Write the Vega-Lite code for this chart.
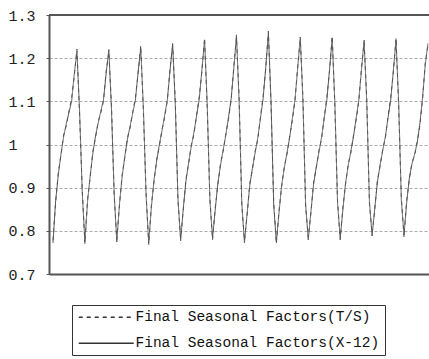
{
  "$schema": "https://vega.github.io/schema/vega-lite/v6.json",
  "width": 380,
  "height": 259,
  "autosize": {"type": "none"},
  "padding": {"left": 49, "top": 15, "right": 0, "bottom": 85},
  "background": "white",
  "config": {"view": {"stroke": null}},
  "data": {"values": [
    {"t":0,"x12":0.772,"ts":0.778},{"t":1,"x12":0.870,"ts":0.866},{"t":2,"x12":0.930,"ts":0.935},{"t":3,"x12":0.978,"ts":0.975},{"t":4,"x12":1.018,"ts":1.022},{"t":5,"x12":1.048,"ts":1.043},{"t":6,"x12":1.074,"ts":1.077},{"t":7,"x12":1.100,"ts":1.106},{"t":8,"x12":1.163,"ts":1.159},{"t":9,"x12":1.216,"ts":1.221},{"t":10,"x12":1.078,"ts":1.068},{"t":11,"x12":0.890,"ts":0.897},
    {"t":12,"x12":0.774,"ts":0.770},{"t":13,"x12":0.868,"ts":0.873},{"t":14,"x12":0.928,"ts":0.925},{"t":15,"x12":0.980,"ts":0.984},{"t":16,"x12":1.020,"ts":1.016},{"t":17,"x12":1.050,"ts":1.053},{"t":18,"x12":1.078,"ts":1.073},{"t":19,"x12":1.104,"ts":1.101},{"t":20,"x12":1.165,"ts":1.170},{"t":21,"x12":1.220,"ts":1.214},{"t":22,"x12":1.080,"ts":1.092},{"t":23,"x12":0.888,"ts":0.882},
    {"t":24,"x12":0.774,"ts":0.780},{"t":25,"x12":0.862,"ts":0.858},{"t":26,"x12":0.925,"ts":0.930},{"t":27,"x12":0.972,"ts":0.969},{"t":28,"x12":1.012,"ts":1.016},{"t":29,"x12":1.043,"ts":1.038},{"t":30,"x12":1.073,"ts":1.076},{"t":31,"x12":1.103,"ts":1.109},{"t":32,"x12":1.167,"ts":1.163},{"t":33,"x12":1.224,"ts":1.229},{"t":34,"x12":1.085,"ts":1.075},{"t":35,"x12":0.882,"ts":0.889},
    {"t":36,"x12":0.772,"ts":0.768},{"t":37,"x12":0.855,"ts":0.860},{"t":38,"x12":0.918,"ts":0.915},{"t":39,"x12":0.962,"ts":0.966},{"t":40,"x12":1.000,"ts":0.996},{"t":41,"x12":1.032,"ts":1.035},{"t":42,"x12":1.068,"ts":1.063},{"t":43,"x12":1.104,"ts":1.101},{"t":44,"x12":1.170,"ts":1.175},{"t":45,"x12":1.234,"ts":1.228},{"t":46,"x12":1.090,"ts":1.102},{"t":47,"x12":0.875,"ts":0.869},
    {"t":48,"x12":0.777,"ts":0.783},{"t":49,"x12":0.852,"ts":0.848},{"t":50,"x12":0.915,"ts":0.920},{"t":51,"x12":0.958,"ts":0.955},{"t":52,"x12":0.995,"ts":0.999},{"t":53,"x12":1.028,"ts":1.023},{"t":54,"x12":1.066,"ts":1.069},{"t":55,"x12":1.105,"ts":1.111},{"t":56,"x12":1.173,"ts":1.169},{"t":57,"x12":1.242,"ts":1.247},{"t":58,"x12":1.094,"ts":1.084},{"t":59,"x12":0.870,"ts":0.877},
    {"t":60,"x12":0.783,"ts":0.779},{"t":61,"x12":0.848,"ts":0.853},{"t":62,"x12":0.910,"ts":0.907},{"t":63,"x12":0.952,"ts":0.956},{"t":64,"x12":0.988,"ts":0.984},{"t":65,"x12":1.022,"ts":1.025},{"t":66,"x12":1.063,"ts":1.058},{"t":67,"x12":1.106,"ts":1.103},{"t":68,"x12":1.176,"ts":1.181},{"t":69,"x12":1.254,"ts":1.248},{"t":70,"x12":1.098,"ts":1.110},{"t":71,"x12":0.865,"ts":0.859},
    {"t":72,"x12":0.772,"ts":0.778},{"t":73,"x12":0.840,"ts":0.836},{"t":74,"x12":0.905,"ts":0.910},{"t":75,"x12":0.945,"ts":0.942},{"t":76,"x12":0.980,"ts":0.984},{"t":77,"x12":1.015,"ts":1.010},{"t":78,"x12":1.060,"ts":1.063},{"t":79,"x12":1.105,"ts":1.111},{"t":80,"x12":1.178,"ts":1.174},{"t":81,"x12":1.258,"ts":1.263},{"t":82,"x12":1.100,"ts":1.090},{"t":83,"x12":0.860,"ts":0.867},
    {"t":84,"x12":0.774,"ts":0.770},{"t":85,"x12":0.842,"ts":0.847},{"t":86,"x12":0.906,"ts":0.903},{"t":87,"x12":0.946,"ts":0.950},{"t":88,"x12":0.981,"ts":0.977},{"t":89,"x12":1.016,"ts":1.019},{"t":90,"x12":1.060,"ts":1.055},{"t":91,"x12":1.104,"ts":1.101},{"t":92,"x12":1.175,"ts":1.180},{"t":93,"x12":1.249,"ts":1.243},{"t":94,"x12":1.098,"ts":1.110},{"t":95,"x12":0.862,"ts":0.856},
    {"t":96,"x12":0.779,"ts":0.785},{"t":97,"x12":0.845,"ts":0.841},{"t":98,"x12":0.908,"ts":0.913},{"t":99,"x12":0.948,"ts":0.945},{"t":100,"x12":0.982,"ts":0.986},{"t":101,"x12":1.017,"ts":1.012},{"t":102,"x12":1.061,"ts":1.064},{"t":103,"x12":1.104,"ts":1.110},{"t":104,"x12":1.174,"ts":1.170},{"t":105,"x12":1.246,"ts":1.251},{"t":106,"x12":1.097,"ts":1.087},{"t":107,"x12":0.865,"ts":0.872},
    {"t":108,"x12":0.783,"ts":0.779},{"t":109,"x12":0.848,"ts":0.853},{"t":110,"x12":0.910,"ts":0.907},{"t":111,"x12":0.950,"ts":0.954},{"t":112,"x12":0.984,"ts":0.980},{"t":113,"x12":1.018,"ts":1.021},{"t":114,"x12":1.061,"ts":1.056},{"t":115,"x12":1.103,"ts":1.100},{"t":116,"x12":1.172,"ts":1.177},{"t":117,"x12":1.242,"ts":1.236},{"t":118,"x12":1.095,"ts":1.107},{"t":119,"x12":0.868,"ts":0.862},
    {"t":120,"x12":0.788,"ts":0.794},{"t":121,"x12":0.852,"ts":0.848},{"t":122,"x12":0.913,"ts":0.918},{"t":123,"x12":0.952,"ts":0.949},{"t":124,"x12":0.986,"ts":0.990},{"t":125,"x12":1.019,"ts":1.014},{"t":126,"x12":1.062,"ts":1.065},{"t":127,"x12":1.103,"ts":1.109},{"t":128,"x12":1.172,"ts":1.168},{"t":129,"x12":1.242,"ts":1.247},{"t":130,"x12":1.096,"ts":1.086},{"t":131,"x12":0.870,"ts":0.877},
    {"t":132,"x12":0.790,"ts":0.786},{"t":133,"x12":0.865,"ts":0.870},{"t":134,"x12":0.922,"ts":0.919},{"t":135,"x12":0.955,"ts":0.959},{"t":136,"x12":0.978,"ts":0.974},{"t":137,"x12":1.005,"ts":1.008},{"t":138,"x12":1.050,"ts":1.045},{"t":139,"x12":1.110,"ts":1.107},{"t":140,"x12":1.185,"ts":1.190},{"t":141,"x12":1.234,"ts":1.228}
  ]},
  "layer": [
    {
      "transform": [{"fold": ["ts", "x12"], "as": ["series", "value"]}],
      "mark": {"type": "line", "color": "#555", "strokeWidth": 1, "clip": true},
      "encoding": {
        "x": {"field": "t", "type": "quantitative",
          "scale": {"domain": [-1.5, 141.4], "nice": false, "zero": false},
          "axis": {"title": null, "labels": false, "ticks": false, "grid": false, "domainColor": "#555", "domainWidth": 2}},
        "y": {"field": "value", "type": "quantitative",
          "scale": {"domain": [0.7, 1.3], "nice": false, "zero": false},
          "axis": {"title": null, "values": [0.7, 0.8, 0.9, 1, 1.1, 1.2, 1.3],
            "labelExpr": "datum.value == 1 ? '1' : format(datum.value, '.1f')",
            "labelFont": "Liberation Mono", "labelFontSize": 15, "labelColor": "#222",
            "labelAlign": "left", "labelPadding": 38, "labelFlush": false, "labelOverlap": false,
            "tickSize": 3, "tickColor": "#555", "domainColor": "#555", "domainWidth": 2,
            "gridColor": "#aaa", "gridDash": [3, 2], "gridWidth": 1}},
        "strokeDash": {"field": "series", "type": "nominal",
          "scale": {"domain": ["ts", "x12"], "range": [[4, 4], [1, 0]]},
          "legend": {"title": null, "orient": "none", "legendX": 23, "legendY": 290, "direction": "vertical",
            "labelExpr": "datum.value == 'ts' ? 'Final Seasonal Factors(T/S)' : 'Final Seasonal Factors(X-12)'",
            "labelFont": "Liberation Mono", "labelFontSize": 14.5, "labelColor": "#111", "labelLimit": 400,
            "symbolType": "M-1,0H9", "symbolSize": 121, "symbolStrokeWidth": 1.3, "symbolStrokeColor": "#333",
            "symbolFillColor": "transparent",
            "labelOffset": 44, "rowPadding": 11, "padding": 5,
            "strokeColor": "#333", "fillColor": "white"}}
      }
    },
    {
      "mark": {"type": "rule", "color": "#555", "strokeWidth": 2},
      "encoding": {"y": {"datum": 1.3}}
    }
  ]
}
